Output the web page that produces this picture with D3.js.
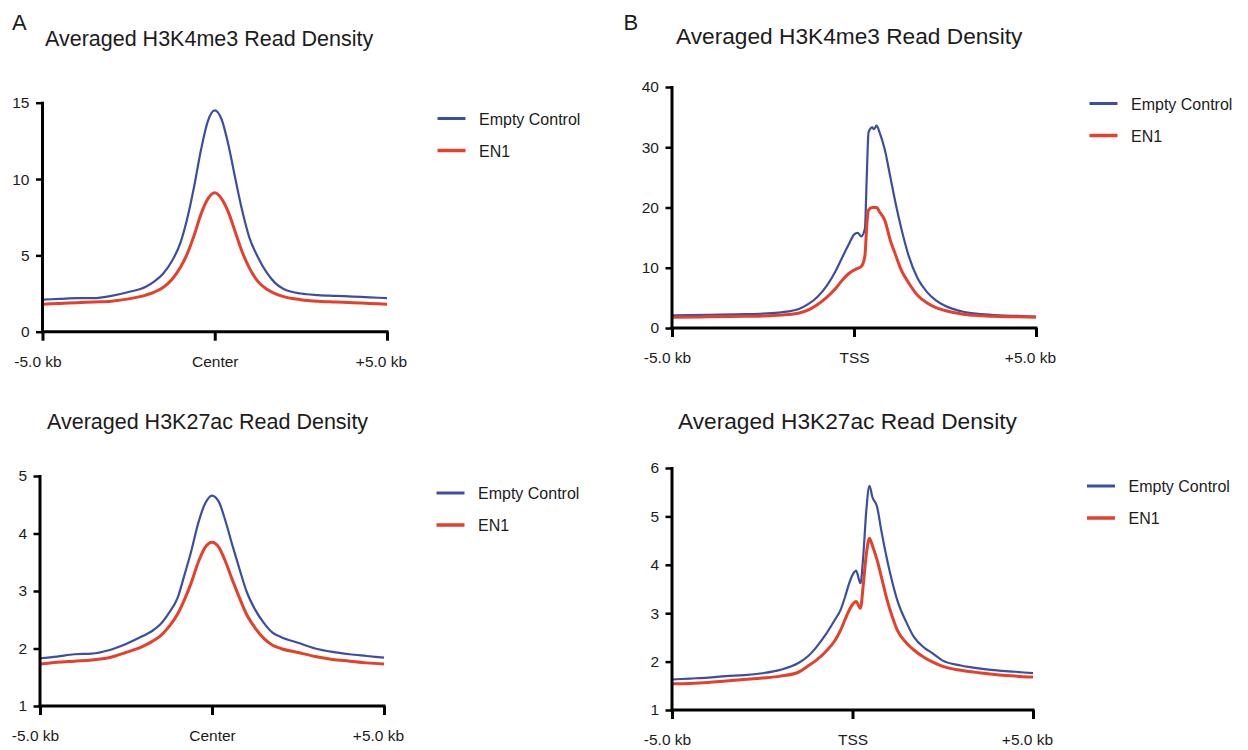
<!DOCTYPE html>
<html>
<head>
<meta charset="utf-8">
<script src="https://cdn.jsdelivr.net/npm/d3@7"></script>
<style>
  html, body { margin: 0; padding: 0; background: #fff; }
  svg { display: block; }
  text { font-family: "Liberation Sans", Arial, sans-serif; fill: #1c1c1c; }
</style>
</head>
<body>
<svg id="chart" width="1248" height="750"></svg>
<script>
// ---------- DATA ----------
const seriesNames = ["Empty Control", "EN1"];
const xTickLabelsCenter = ["-5.0 kb", "Center", "+5.0 kb"];
const xTickLabelsTSS = ["-5.0 kb", "TSS", "+5.0 kb"];
const xTickValues = [-5, 0, 5];

// Panel A (peak centres), positions in kb
const posCenter = [-5,-4.5,-4,-3.5,-3,-2.5,-2,-1.75,-1.5,-1.25,-1,-0.8,-0.6,-0.4,-0.2,0,0.2,0.4,0.6,0.8,1,1.25,1.5,1.75,2,2.5,3,3.5,4,4.5,5];
const k4Center_Control = [2.1,2.15,2.2,2.2,2.35,2.6,2.95,3.3,3.8,4.6,5.8,7.4,9.5,11.9,13.8,14.5,13.9,12.2,10.0,7.9,6.2,4.9,3.9,3.2,2.8,2.5,2.4,2.35,2.3,2.25,2.2];
const k4Center_EN1     = [1.8,1.85,1.9,1.95,2.0,2.15,2.4,2.6,2.9,3.4,4.2,5.1,6.3,7.7,8.7,9.1,8.7,7.8,6.5,5.2,4.2,3.3,2.8,2.5,2.3,2.1,2.0,1.95,1.9,1.85,1.8];
const k27Center_Control = [1.83,1.86,1.9,1.91,1.97,2.08,2.22,2.3,2.42,2.62,2.88,3.28,3.7,4.18,4.52,4.66,4.55,4.2,3.78,3.38,3.0,2.68,2.45,2.28,2.2,2.1,2.0,1.94,1.9,1.87,1.84];
const k27Center_EN1     = [1.73,1.76,1.78,1.8,1.84,1.93,2.04,2.12,2.22,2.38,2.6,2.85,3.15,3.5,3.76,3.85,3.76,3.5,3.18,2.88,2.6,2.36,2.18,2.06,2.0,1.93,1.86,1.81,1.78,1.75,1.73];

// Panel B (TSS), positions in kb
const posTSS_k4 = [-5,-4,-3,-2.5,-2,-1.5,-1.25,-1,-0.75,-0.5,-0.3,-0.15,0,0.1,0.2,0.3,0.35,0.4,0.5,0.55,0.62,0.7,0.85,1.0,1.15,1.3,1.5,1.75,2.0,2.25,2.5,3,3.5,4,4.5,5];
const k4TSS_Control = [2.1,2.2,2.3,2.4,2.6,3.2,4.0,5.2,7.0,9.5,12.0,13.8,15.5,15.8,15.2,16.5,25,32.5,33.3,33.0,33.6,32.5,29.5,25,20.5,16.5,12.0,8.2,6.0,4.6,3.7,2.7,2.3,2.1,2.0,1.9];
const k4TSS_EN1     = [1.8,1.85,1.95,2.0,2.15,2.5,3.0,3.9,5.1,6.6,8.1,9.0,9.6,9.9,10.2,12,17,19.6,20.0,20.0,20.0,19.3,17.8,14.5,12.0,9.6,7.5,5.4,4.2,3.4,2.9,2.3,2.05,1.9,1.85,1.8];

const posTSS_k27 = [-5,-4.5,-4,-3.5,-3,-2.5,-2,-1.5,-1.25,-1,-0.75,-0.5,-0.33,-0.2,-0.1,0.05,0.1,0.22,0.3,0.38,0.47,0.55,0.68,0.8,0.96,1.1,1.24,1.5,1.7,2.0,2.2,2.5,3.0,3.5,4,4.5,5];
const k27TSS_Control = [1.63,1.65,1.67,1.7,1.72,1.76,1.83,1.97,2.1,2.3,2.55,2.85,3.07,3.35,3.6,3.85,3.88,3.62,4.2,5.1,5.63,5.4,5.2,4.7,4.1,3.65,3.27,2.8,2.51,2.28,2.18,2.02,1.92,1.86,1.82,1.79,1.76];
const k27TSS_EN1     = [1.54,1.55,1.57,1.6,1.63,1.66,1.7,1.78,1.9,2.03,2.2,2.42,2.65,2.88,3.05,3.22,3.24,3.1,3.6,4.2,4.55,4.4,4.1,3.75,3.27,2.93,2.65,2.38,2.24,2.08,2.0,1.9,1.82,1.77,1.73,1.7,1.68];

const yTicksK4Center = [0,5,10,15];
const yTicksK27Center = [1,2,3,4,5];
const yTicksK4TSS = [0,10,20,30,40];
const yTicksK27TSS = [1,2,3,4,5,6];

const colorControl = "#3b4fa2";
const colorEN1 = "#e5402b";

// ---------- LAYOUT ----------
const svg = d3.select("#chart");

const panels = [
  { title: "Averaged H3K4me3 Read Density", titleX: 45, titleY: 46, titleSize: 21.5,
    x0: 42.5, x1: 387, yTop: 102.7, yBot: 331.7, yDomain: [0,15], yTicks: yTicksK4Center,
    xLabels: xTickLabelsCenter, pos: posCenter, ctrl: k4Center_Control, en1: k4Center_EN1,
    legX: 437.5, legY: 118.5 },
  { title: "Averaged H3K27ac Read Density", titleX: 47, titleY: 429, titleSize: 21.5,
    x0: 40, x1: 384, yTop: 476, yBot: 706, yDomain: [1,5], yTicks: yTicksK27Center,
    xLabels: xTickLabelsCenter, pos: posCenter, ctrl: k27Center_Control, en1: k27Center_EN1,
    legX: 436.5, legY: 493 },
  { title: "Averaged H3K4me3 Read Density", titleX: 676, titleY: 44, titleSize: 22.7,
    x0: 672, x1: 1036, yTop: 87, yBot: 328, yDomain: [0,40], yTicks: yTicksK4TSS,
    xLabels: xTickLabelsTSS, pos: posTSS_k4, ctrl: k4TSS_Control, en1: k4TSS_EN1,
    legX: 1089.5, legY: 103.5 },
  { title: "Averaged H3K27ac Read Density", titleX: 678, titleY: 429, titleSize: 22.7,
    x0: 672, x1: 1033, yTop: 468, yBot: 710, yDomain: [1,6], yTicks: yTicksK27TSS,
    xLabels: xTickLabelsTSS, pos: posTSS_k27, ctrl: k27TSS_Control, en1: k27TSS_EN1,
    legX: 1087, legY: 486 }
];

svg.append("text").attr("x", 12).attr("y", 29.5).attr("font-size", 22).text("A");
svg.append("text").attr("x", 623.5).attr("y", 29.5).attr("font-size", 22).text("B");

panels.forEach(p => {
  const g = svg.append("g");
  const x = d3.scaleLinear().domain([-5, 5]).range([p.x0, p.x1]);
  const y = d3.scaleLinear().domain(p.yDomain).range([p.yBot, p.yTop]);

  g.append("text").attr("x", p.titleX).attr("y", p.titleY)
    .attr("font-size", p.titleSize).text(p.title);

  // lines
  const line = d3.line().x((d, i) => x(p.pos[i])).y(d => y(d)).curve(d3.curveMonotoneX);
  g.append("path").datum(p.ctrl).attr("d", line)
    .attr("fill", "none").attr("stroke", colorControl).attr("stroke-width", 2.2)
    .attr("stroke-linejoin", "round");
  g.append("path").datum(p.en1).attr("d", line)
    .attr("fill", "none").attr("stroke", colorEN1).attr("stroke-width", 3)
    .attr("stroke-linejoin", "round");

  // y axis
  const yAxis = d3.axisLeft(y).tickValues(p.yTicks).tickSize(6.5).tickPadding(6.5)
    .tickFormat(d3.format("d"));
  const ya = g.append("g").attr("transform", `translate(${p.x0},0)`).call(yAxis);
  ya.select(".domain").attr("stroke", "#000").attr("stroke-width", 3)
    .attr("d", `M0,${p.yTop - 1}V${p.yBot + 1.5}`);
  ya.selectAll(".tick line").attr("stroke", "#000").attr("stroke-width", 2.5);
  ya.selectAll(".tick text").attr("font-size", 15.5).attr("fill", "#1c1c1c")
    .attr("font-family", '"Liberation Sans", Arial, sans-serif');

  // x axis
  const xAxis = d3.axisBottom(x).tickValues(xTickValues).tickSize(9).tickPadding(15)
    .tickFormat((d, i) => p.xLabels[i]);
  const xa = g.append("g").attr("transform", `translate(0,${p.yBot})`).call(xAxis);
  xa.select(".domain").attr("stroke", "#000").attr("stroke-width", 3)
    .attr("d", `M${p.x0 - 1.5},0H${p.x1 + 1.5}`);
  xa.selectAll(".tick line").attr("stroke", "#000").attr("stroke-width", 3);
  xa.selectAll(".tick text").attr("font-size", 15.5).attr("fill", "#1c1c1c")
    .attr("font-family", '"Liberation Sans", Arial, sans-serif')
    .attr("dx", (d, i) => i === 0 ? -5 : (i === 2 ? -6 : 0));

  // legend
  const leg = g.append("g");
  [p.ctrl, p.en1].forEach((_, i) => {
    const ly = p.legY + i * 32;
    leg.append("line").attr("x1", p.legX).attr("x2", p.legX + 28)
      .attr("y1", ly).attr("y2", ly)
      .attr("stroke", i === 0 ? colorControl : colorEN1).attr("stroke-width", i === 0 ? 3 : 3.5);
    leg.append("text").attr("x", p.legX + 41.5).attr("y", ly + 6)
      .attr("font-size", 16).text(seriesNames[i]);
  });
});
</script>
</body>
</html>
